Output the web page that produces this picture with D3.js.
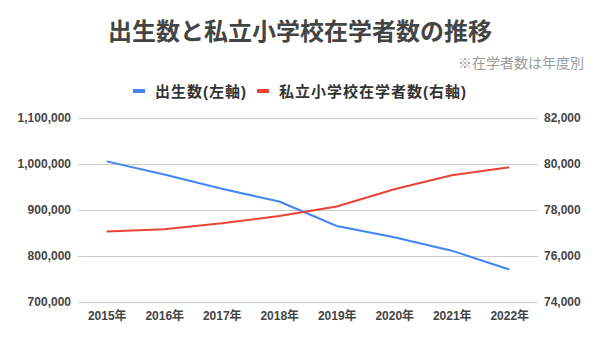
<!DOCTYPE html>
<html><head><meta charset="utf-8">
<script src="https://cdn.jsdelivr.net/npm/d3@7"></script>
<style>
body{margin:0;background:#fff;}
svg{font-family:"Liberation Sans","Noto Sans CJK JP",sans-serif;}
</style></head>
<body><svg id="c" width="600" height="340"></svg>
<script>
const years = ["2015年","2016年","2017年","2018年","2019年","2020年","2021年","2022年"];
const births = [1005677, 977242, 946146, 918400, 865239, 840835, 811622, 770759];
const students = [77060, 77160, 77420, 77740, 78150, 78900, 79510, 79860];
const leftTicks = [700000, 800000, 900000, 1000000, 1100000];
const rightTicks = [74000, 76000, 78000, 80000, 82000];
const seriesNames = ["出生数(左軸)", "私立小学校在学者数(右軸)"];
const colors = ["#4285F4", "#EA4335"];

const svg = d3.select("#c");
const L = 78, R = 538, T = 118, B = 302;
const x = d3.scalePoint().domain(years).range([L, R]).padding(0.5);
const yL = d3.scaleLinear().domain([700000, 1100000]).range([B, T]);
const yR = d3.scaleLinear().domain([74000, 82000]).range([B, T]);
const fmt = d3.format(",");

svg.append("text").attr("x", 300).attr("y", 40).attr("text-anchor", "middle")
  .attr("font-size", 24).attr("font-weight", "bold").attr("fill", "#444")
  .attr("font-family", "'Noto Sans CJK JP',sans-serif")
  .text("出生数と私立小学校在学者数の推移");
svg.append("text").attr("x", 584).attr("y", 68).attr("text-anchor", "end")
  .attr("font-size", 14).attr("fill", "#999")
  .attr("font-family", "'Noto Sans CJK JP',sans-serif")
  .text("※在学者数は年度別");

// legend
const lg = svg.append("g");
const items = [{x:133, name:seriesNames[0], c:colors[0]}, {x:257, name:seriesNames[1], c:colors[1]}];
items.forEach(it => {
  lg.append("rect").attr("x", it.x).attr("y", 89).attr("width", 12).attr("height", 4).attr("fill", it.c);
  lg.append("text").attr("x", it.x + 22).attr("y", 97).attr("font-size", 15)
    .attr("letter-spacing", 1)
    .attr("font-weight", "bold").attr("fill", "#333").text(it.name);
});

// grid
svg.append("g").selectAll("line").data(leftTicks).join("line")
  .attr("x1", L).attr("x2", R).attr("y1", d => Math.round(yL(d)) + 0.5).attr("y2", d => Math.round(yL(d)) + 0.5)
  .attr("stroke", "#ccc").attr("stroke-width", 1);

// axes
const axL = svg.append("g").attr("transform", `translate(${L},0)`)
  .call(d3.axisLeft(yL).tickValues(leftTicks).tickFormat(fmt).tickSize(0).tickPadding(7));
const axR = svg.append("g").attr("transform", `translate(${R},0)`)
  .call(d3.axisRight(yR).tickValues(rightTicks).tickFormat(fmt).tickSize(0).tickPadding(6));
const axX = svg.append("g").attr("transform", `translate(0,${B})`)
  .call(d3.axisBottom(x).tickSize(0).tickPadding(9));
[axL, axR, axX].forEach(a => {
  a.select(".domain").remove();
  a.selectAll("text").attr("font-size", 12).attr("font-weight", "bold").attr("fill", "#444")
    .attr("font-family", "'Liberation Sans','Noto Sans CJK JP',sans-serif");
});

// lines
svg.append("path").datum(births).attr("fill", "none").attr("stroke", colors[0]).attr("stroke-width", 2)
  .attr("d", d3.line().x((d, i) => x(years[i])).y(d => yL(d)));
svg.append("path").datum(students).attr("fill", "none").attr("stroke", colors[1]).attr("stroke-width", 2)
  .attr("d", d3.line().x((d, i) => x(years[i])).y(d => yR(d)));
</script></body></html>
